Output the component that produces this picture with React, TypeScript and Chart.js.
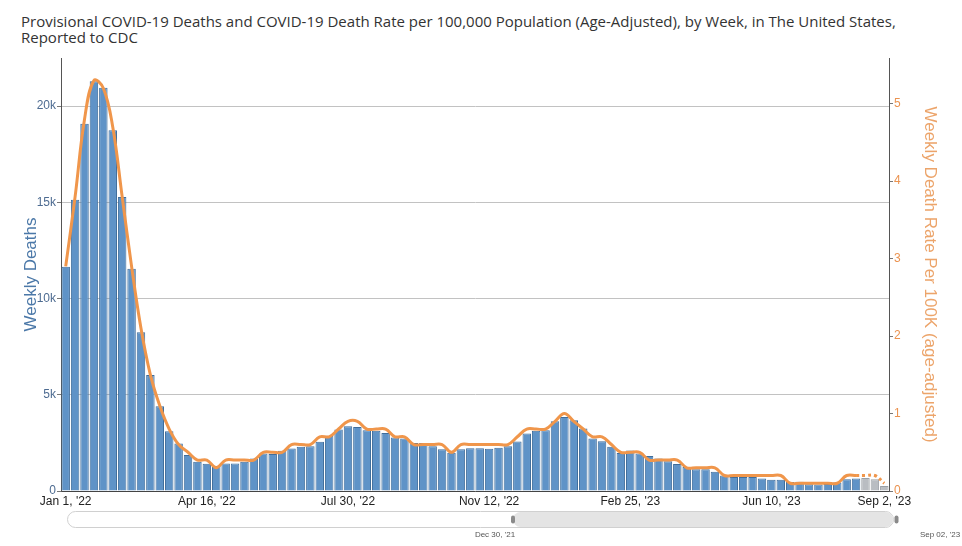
import React, { useEffect, useRef } from "react";
import { Chart, registerables } from "chart.js";

Chart.register(...registerables);

// ---- data ----
const startDate = Date.UTC(2022, 0, 1);
const MONTHS = ["Jan", "Feb", "Mar", "Apr", "May", "Jun", "Jul", "Aug", "Sep", "Oct", "Nov", "Dec"];
const weekCount = 88;
const weeks: string[] = [];
for (let i = 0; i < weekCount; i++) {
  const d = new Date(startDate + i * 7 * 86400000);
  weeks.push(`${MONTHS[d.getUTCMonth()]} ${d.getUTCDate()}, '${String(d.getUTCFullYear()).slice(2)}`);
}

const tickPositions = [0, 15, 30, 45, 60, 75, 87];
const tickLabels = ["Jan 1, '22", "Apr 16, '22", "Jul 30, '22", "Nov 12, '22", "Feb 25, '23", "Jun 10, '23", "Sep 2, '23"];

const weeklyDeaths = [
  11650, 15130, 19080, 21290, 20950, 18740, 15280, 11550, 8250, 6025,
  4400, 3100, 2470, 1865, 1520, 1420, 1300, 1430, 1430, 1520,
  1690, 1950, 1920, 2090, 2210, 2300, 2330, 2560, 2870, 3195,
  3367, 3330, 3160, 3125, 3020, 2780, 2730, 2500, 2500, 2330,
  2175, 1985, 2175, 2225, 2225, 2190, 2245, 2330, 2575, 2990,
  3125, 3160, 3625, 3850, 3680, 3250, 2730, 2580, 2295, 1970,
  2100, 1950, 1815, 1690, 1545, 1400, 1250, 1125, 1125, 1000,
  800, 730, 730, 730, 655, 590, 590, 470, 480, 355,
  340, 360, 440, 605, 655, 670, 610, 260,
];
const provisionalFrom = 85;

const deathRate = [
  2.9, 3.8, 4.8, 5.3, 5.2, 4.7, 3.8, 2.9, 2.1, 1.5,
  1.1, 0.8, 0.6, 0.5, 0.4, 0.4, 0.3, 0.4, 0.4, 0.4,
  0.4, 0.5, 0.5, 0.5, 0.6, 0.6, 0.6, 0.7, 0.7, 0.8,
  0.9, 0.9, 0.8, 0.8, 0.8, 0.7, 0.7, 0.6, 0.6, 0.6,
  0.6, 0.5, 0.6, 0.6, 0.6, 0.6, 0.6, 0.6, 0.7, 0.8,
  0.8, 0.8, 0.9, 1.0, 0.9, 0.8, 0.7, 0.7, 0.6, 0.5,
  0.5, 0.5, 0.4, 0.4, 0.4, 0.4, 0.3, 0.3, 0.3, 0.3,
  0.2, 0.2, 0.2, 0.2, 0.2, 0.2, 0.2, 0.1, 0.1, 0.1,
  0.1, 0.1, 0.1, 0.2, 0.2,
];
const provisionalRateStart = 84;
const provisionalRate = [0.2, 0.2, 0.2, 0.1];

const deathTicks = [0, 5000, 10000, 15000, 20000];
const rateTicks = [0, 1, 2, 3, 4, 5];

const FONT = "Arial, 'Liberation Sans', sans-serif";

const sliderPlugin = {
  id: "rangeSlider",
  afterDraw(chart: any) {
    const ctx = chart.ctx as CanvasRenderingContext2D;
    const left = 67.5;
    const right = 893.5;
    const top = 511.5;
    const h = 16;
    const selLeft = 513;
    ctx.save();
    ctx.beginPath();
    ctx.roundRect(left, top, right - left, h, h / 2);
    ctx.fillStyle = "#ffffff";
    ctx.fill();
    ctx.strokeStyle = "#d0d0d0";
    ctx.lineWidth = 1;
    ctx.stroke();
    ctx.beginPath();
    ctx.roundRect(selLeft, top + 0.5, right - selLeft - 0.5, h - 1, (h - 1) / 2);
    ctx.fillStyle = "#e4e4e4";
    ctx.fill();
    ctx.fillStyle = "#8a8a8a";
    ctx.beginPath();
    ctx.roundRect(selLeft - 2, top + 4, 4, 8, 2);
    ctx.fill();
    ctx.beginPath();
    ctx.roundRect(right + 1, top + 4, 4, 8, 2);
    ctx.fill();
    ctx.fillStyle = "#555";
    ctx.font = `8px ${FONT}`;
    ctx.textAlign = "center";
    ctx.textBaseline = "middle";
    ctx.fillText("Dec 30, '21", 495, 535);
    ctx.fillText("Sep 02, '23", 940, 535);
    ctx.restore();
  },
};

export default function App() {
  const canvasRef = useRef<HTMLCanvasElement | null>(null);

  useEffect(() => {
    document.body.style.margin = "0";
    const canvas = canvasRef.current;
    if (!canvas) return;

    const solidRate = weeklyDeaths.map((_, i) => (i < deathRate.length ? deathRate[i] : null));
    const dottedRate = weeklyDeaths.map((_, i) =>
      i >= provisionalRateStart ? provisionalRate[i - provisionalRateStart] : null
    );
    const barFill = weeklyDeaths.map((_, i) => (i >= provisionalFrom ? "#b9bdc2" : "#5f93c7"));
    const barBorder = weeklyDeaths.map((_, i) => (i >= provisionalFrom ? "#9a9fa5" : "#3f6d9b"));

    const chart = new Chart(canvas, {
      type: "bar",
      data: {
        labels: weeks,
        datasets: [
          {
            type: "line",
            label: "Rate",
            data: solidRate,
            yAxisID: "y1",
            borderColor: "#f0964b",
            borderWidth: 3,
            pointRadius: 0,
            tension: 0.4,
            order: 0,
          } as any,
          {
            type: "line",
            label: "Rate (provisional)",
            data: dottedRate,
            yAxisID: "y1",
            borderColor: "#f0964b",
            borderWidth: 3,
            borderDash: [3, 3],
            pointRadius: 0,
            tension: 0.4,
            order: 0,
          } as any,
          {
            type: "bar",
            label: "Weekly Deaths",
            data: weeklyDeaths,
            yAxisID: "y",
            backgroundColor: barFill,
            borderColor: barBorder,
            borderWidth: 1,
            barPercentage: 0.9,
            categoryPercentage: 1,
            order: 1,
          },
        ],
      },
      options: {
        animation: false,
        responsive: false,
        maintainAspectRatio: false,
        layout: { padding: { top: 58, left: 0, right: 0, bottom: 0 } },
        plugins: { legend: { display: false }, tooltip: { enabled: false }, title: { display: false } },
        scales: {
          x: {
            type: "category",
            grid: { display: false, drawTicks: false },
            border: { display: true, color: "#444", width: 1 },
            ticks: {
              autoSkip: false,
              maxRotation: 0,
              minRotation: 0,
              padding: 3,
              color: "#222",
              font: { family: FONT, size: 12 },
              callback: (_v: any, i: number) => {
                const k = tickPositions.indexOf(i);
                return k >= 0 ? tickLabels[k] : null;
              },
            },
            afterFit: (s: any) => {
              s.height = 55;
            },
          },
          y: {
            position: "left",
            min: 0,
            max: 22500,
            afterBuildTicks: (s: any) => {
              s.ticks = deathTicks.map((v) => ({ value: v }));
            },
            grid: { color: "#c2c2c2", tickLength: 4, tickColor: "#777" },
            border: { display: true, color: "#555", width: 1 },
            ticks: {
              padding: 1,
              color: "#4d6b91",
              font: { family: FONT, size: 12 },
              callback: (v: any) => (v === 0 ? "0" : `${v / 1000}k`),
            },
            title: {
              display: true,
              text: "Weekly Deaths",
              color: "#4b78a8",
              font: { family: FONT, size: 17 },
              padding: { top: 21, bottom: 0 },
            },
            afterFit: (s: any) => {
              s.width = 61;
            },
          },
          y1: {
            position: "right",
            min: 0,
            max: 5.59,
            afterBuildTicks: (s: any) => {
              s.ticks = rateTicks.map((v) => ({ value: v }));
            },
            grid: { drawOnChartArea: false, tickLength: 4, color: "#777" },
            border: { display: true, color: "#555", width: 1 },
            ticks: {
              padding: 1,
              color: "#eb9350",
              font: { family: FONT, size: 12 },
            },
            title: {
              display: true,
              text: "Weekly Death Rate Per 100K (age-adjusted)",
              color: "#eca46a",
              font: { family: FONT, size: 17 },
              padding: { top: 22, bottom: 0 },
            },
            afterFit: (s: any) => {
              s.width = 73;
            },
          },
        },
      },
      plugins: [sliderPlugin],
    });
    return () => chart.destroy();
  }, []);

  return (
    <div style={{ position: "fixed", left: 0, top: 0, width: 962, height: 546, background: "#fff" }}>
      <div
        style={{
          position: "absolute",
          left: 21,
          top: 13,
          fontFamily: "'Open Sans', sans-serif",
          fontSize: 15,
          lineHeight: "16px",
          color: "#333",
          whiteSpace: "nowrap",
        }}
      >
        <div>Provisional COVID-19 Deaths and COVID-19 Death Rate per 100,000 Population (Age-Adjusted), by Week, in The United States,</div>
        <div>Reported to CDC</div>
      </div>
      <canvas ref={canvasRef} width={962} height={546} style={{ position: "absolute", left: 0, top: 0 }} />
    </div>
  );
}
